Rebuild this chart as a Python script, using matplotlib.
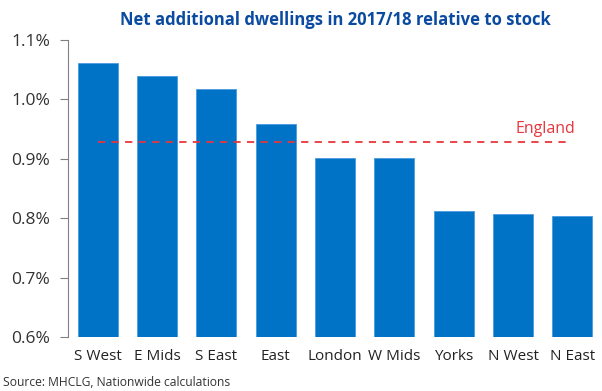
import numpy as np
import matplotlib
matplotlib.use('Agg')
import matplotlib.pyplot as plt
from matplotlib.ticker import FuncFormatter

# data (% of stock)
regions = ['S West', 'E Mids', 'S East', 'East', 'London', 'W Mids', 'Yorks', 'N West', 'N East']
values = [1.061, 1.039, 1.017, 0.959, 0.901, 0.901, 0.812, 0.807, 0.804]
england = 0.928

plt.rcParams['font.family'] = ['Open Sans', 'DejaVu Sans']

fig = plt.figure(figsize=(6.02, 3.91), dpi=100)
ax = fig.add_axes([68 / 602, 1 - 337 / 391, 1 - 68 / 602, (337 - 40) / 391])

x = np.arange(len(regions))
ax.bar(x, values, width=0.67, color='#0073C6', edgecolor='#4a9be0', linewidth=0.6, zorder=2)
ax.plot([x[0], x[-1]], [england, england], color='#e8363c', linestyle=(0, (4, 3.5)), linewidth=1.3, zorder=3)
ax.text(x[-1] + 0.05, england + 0.008, 'England', color='#e8363c', fontsize=11.5, ha='right', va='bottom')

ax.set_ylim(0.6, 1.1)
ax.set_yticks([0.6, 0.7, 0.8, 0.9, 1.0, 1.1])
ax.yaxis.set_major_formatter(FuncFormatter(lambda v, p: '%.1f%%' % v))
ax.set_xlim(-0.5, len(regions) - 0.5)
ax.set_xticks(x)
ax.set_xticklabels(regions)

for s in ['top', 'right', 'bottom']:
    ax.spines[s].set_visible(False)
ax.spines['left'].set_color('#808080')
ax.tick_params(axis='y', colors='#808080', labelcolor='#333333', labelsize=12.5, length=6, pad=7)
ax.tick_params(axis='x', length=0, labelcolor='#222222', labelsize=11, pad=9)

fig.text(335 / 602, 1 - 20 / 391, 'Net additional dwellings in 2017/18 relative to stock',
         color='#0a4aa0', fontsize=12, fontweight='bold', ha='center', va='center')
fig.text(3 / 602, 1 - 383 / 391, 'Source: MHCLG, Nationwide calculations',
         color='#333333', fontsize=8.7, ha='left', va='center')

fig.savefig('out.png', dpi=100)
